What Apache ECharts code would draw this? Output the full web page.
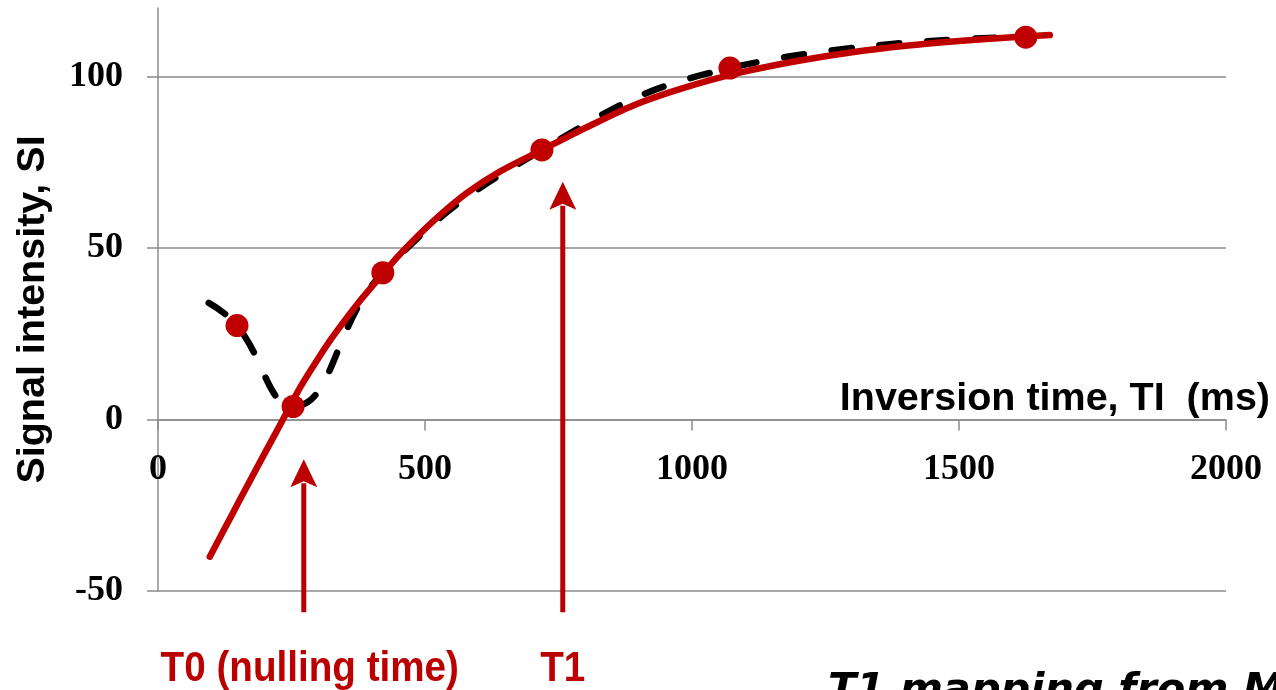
<!DOCTYPE html>
<html>
<head>
<meta charset="utf-8">
<script src="https://cdn.jsdelivr.net/npm/echarts@6/dist/echarts.min.js"></script>
<style>
  html, body { margin: 0; padding: 0; background: #ffffff; }
  #chart { width: 1276px; height: 690px; }
</style>
</head>
<body>
<div id="chart"></div>
<script>
// ---- data ----
const xTicks = [0, 500, 1000, 1500, 2000];
const yTicks = [-50, 0, 50, 100];

// measured signal (red dots joined by black dashed smooth line)
const measuredTI = [148, 253, 421, 719, 1071, 1625];
const measuredSI = [27.4, 3.8, 42.8, 78.6, 102.5, 111.5];
// dashed line starts a little before the first dot
const dashedLeadTI = 95;
const dashedLeadSI = 34;

// fitted inversion-recovery curve (red solid)
const fitTI = [97, 140, 170, 200, 234, 266, 300, 328, 375, 423, 453, 516, 578, 640, 719, 800, 890, 980, 1080, 1200, 1300, 1400, 1500, 1600, 1670];
const fitSI = [-40, -27.3, -18.5, -9.8, 0, 9.3, 17.8, 24.3, 34.0, 42.8, 48.2, 57.9, 66.0, 72.3, 78.6, 85.0, 91.6, 96.5, 100.8, 104.6, 107.1, 109.0, 110.4, 111.5, 112.1];

// annotation arrows: x position, bottom, tip
const arrowTI = [273, 758];
const arrowBottomSI = [-56.2, -56.2];
const arrowTipSI = [-11.6, 69.3];
const arrowLabels = ['T0 (nulling time)', 'T1'];

const RED = '#C00000';
const ARROW = '#BA0000';
const GRID = '#8c8c8c';

const Y_MIN = -50, Y_MAX = 120;
const GRID_TOP = 8, GRID_BOTTOM = 99, CHART_H = 690;

const dashedData = [[dashedLeadTI, dashedLeadSI]].concat(measuredTI.map((x, i) => [x, measuredSI[i]]));
const dotData = measuredTI.map((x, i) => [x, measuredSI[i]]);
const fitData = fitTI.map((x, i) => [x, fitSI[i]]);
const arrowData = arrowTI.map((x, i) => [x, arrowBottomSI[i], arrowTipSI[i]]);

// x axis sits on the zero line: offset it up from the grid bottom by the height of (0 - Y_MIN)
const plotH = CHART_H - GRID_TOP - GRID_BOTTOM;
const zeroOffset = -plotH * (0 - Y_MIN) / (Y_MAX - Y_MIN);

const chart = echarts.init(document.getElementById('chart'), null, { renderer: 'canvas' });

const option = {
  backgroundColor: '#ffffff',
  animation: false,
  grid: { left: 158, right: 50, top: GRID_TOP, bottom: GRID_BOTTOM, containLabel: false },
  xAxis: {
    type: 'value',
    min: 0, max: 2000, interval: 500,
    position: 'bottom',
    offset: zeroOffset,
    name: 'Inversion time, TI  (ms)',
    nameLocation: 'end',
    nameGap: 44,
    nameTextStyle: {
      fontFamily: '"Liberation Sans", Arial, sans-serif',
      fontWeight: 'bold', fontSize: 39.5, color: '#000',
      align: 'right', verticalAlign: 'bottom'
    },
    axisLine: { show: true, onZero: false, lineStyle: { color: GRID, width: 1.5 } },
    axisTick: { show: true, length: 11, lineStyle: { color: GRID, width: 1.5 } },
    axisLabel: {
      margin: 32,
      formatter: function (v) { return String(v); },
      fontFamily: '"Liberation Serif", "Times New Roman", serif',
      fontWeight: 'bold', fontSize: 36, color: '#000'
    },
    splitLine: { show: false }
  },
  yAxis: {
    type: 'value',
    min: Y_MIN, max: Y_MAX, interval: 50,
    name: 'Signal intensity, SI',
    nameLocation: 'middle',
    nameRotate: 90,
    nameGap: 105,
    nameTextStyle: {
      fontFamily: '"Liberation Sans", Arial, sans-serif',
      fontWeight: 'bold', fontSize: 39.5, color: '#000',
      padding: [0, 20, 0, 0]
    },
    axisLine: { show: true, lineStyle: { color: GRID, width: 1.5 } },
    axisTick: { show: true, length: 11, customValues: yTicks, lineStyle: { color: GRID, width: 1.5 } },
    axisLabel: {
      customValues: yTicks,
      margin: 35,
      formatter: function (v) { return String(v); },
      fontFamily: '"Liberation Serif", "Times New Roman", serif',
      fontWeight: 'bold', fontSize: 36, color: '#000'
    },
    splitLine: { show: true, lineStyle: { color: GRID, width: 1.5 } }
  },
  series: [
    {
      type: 'line',
      data: dashedData,
      smooth: 0.45,
      showSymbol: false,
      symbol: 'none',
      z: 2,
      lineStyle: { color: '#000', width: 6.5, type: [20, 28], cap: 'round' }
    },
    {
      type: 'line',
      data: fitData,
      smooth: 0.3,
      showSymbol: false,
      symbol: 'none',
      z: 3,
      lineStyle: { color: RED, width: 6.5, cap: 'round' }
    },
    {
      type: 'scatter',
      data: dotData,
      symbol: 'circle',
      symbolSize: 23,
      z: 4,
      itemStyle: { color: RED, opacity: 1 }
    },
    {
      type: 'custom',
      data: arrowData,
      clip: false,
      z: 5,
      renderItem: function (params, api) {
        const x = api.value(0);
        const pBottom = api.coord([x, api.value(1)]);
        const pTip = api.coord([x, api.value(2)]);
        const headLen = 28, headW = 13.5;
        return {
          type: 'group',
          children: [
            {
              type: 'line',
              shape: { x1: pBottom[0], y1: pBottom[1], x2: pTip[0], y2: pTip[1] + headLen - 4 },
              style: { stroke: ARROW, lineWidth: 5 }
            },
            {
              type: 'polygon',
              shape: { points: [
                [pTip[0], pTip[1]],
                [pTip[0] - headW, pTip[1] + headLen],
                [pTip[0], pTip[1] + headLen - 6],
                [pTip[0] + headW, pTip[1] + headLen]
              ] },
              style: { fill: ARROW }
            },
            {
              type: 'text',
              x: pBottom[0] + (params.dataIndex === 0 ? 6 : 0), y: pBottom[1] + 57,
              scaleX: 0.92,
              style: {
                text: arrowLabels[params.dataIndex],
                align: 'center', verticalAlign: 'middle',
                font: 'bold 42px "Liberation Sans", Arial, sans-serif',
                fill: ARROW
              }
            }
          ]
        };
      }
    }
  ],
  graphic: [
    {
      type: 'text',
      left: 828, top: 671,
      style: {
        text: 'T1 mapping from M',
        font: 'italic bold 41.5px "DejaVu Sans", Verdana, sans-serif',
        fill: '#000'
      }
    }
  ]
};

chart.setOption(option);
</script>
</body>
</html>
